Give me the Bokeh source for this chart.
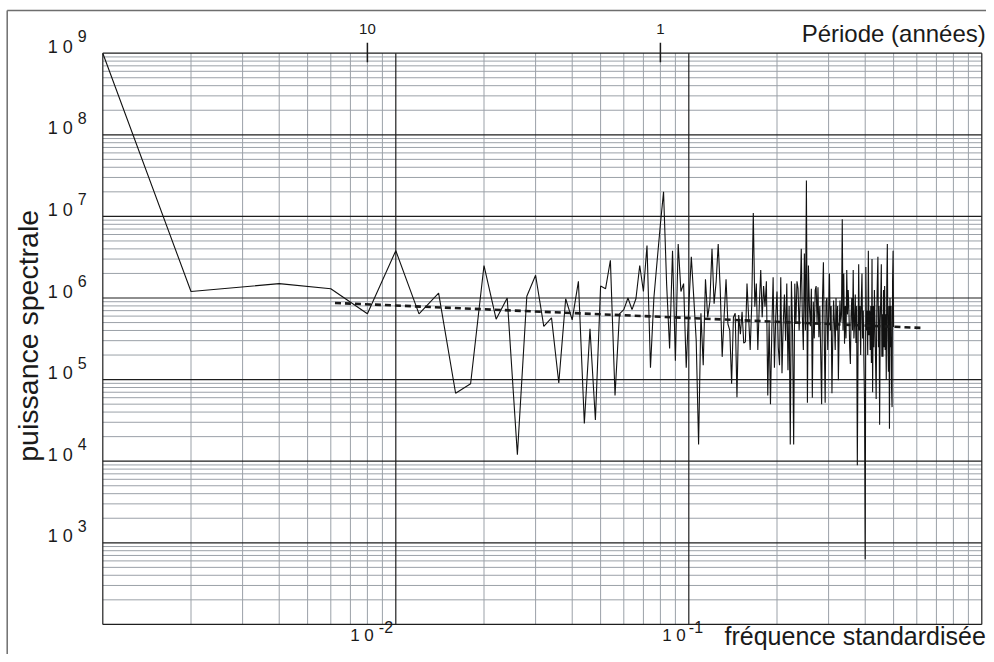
import math
from bokeh.plotting import figure
from bokeh.models import Range1d
from bokeh.core.properties import value
from bokeh.embed import file_html
from bokeh.resources import INLINE

# ---------------- data ----------------
N_SAMPLES = 500                      # FFT length -> harmonic k at frequency k / N
harmonic = list(range(1, 251))
dc_freq = 0.001                       # first point drawn at the left edge
dc_power = 1.0e9

power = [
    1.2e6, 1.5e6, 1.3e6, 6.4e5, 3.8e6, 6.4e5, 1.15e6, 6.8e4, 8.9e4, 2.5e6,
    5.5e5, 1.0e6, 1.2e4, 1.05e6, 1.9e6, 4.5e5, 5.7e5, 9.1e4, 9.8e5, 5.4e5,
    1.6e6, 2.9e4, 4.2e5, 3.2e4, 1.4e6, 1.3e6, 2.9e6, 6.4e4, 6.4e5, 7.2e5,
    1.0e6, 7.2e5, 9.8e5, 2.5e6, 1.2e6, 4.4e6, 1.4e5, 1.0e6, 2.9e6, 8.0e6,
    2.0e7, 1.5e6, 2.4e5, 3.8e6, 1.7e5, 4.6e6, 1.2e6, 1.5e6, 1.4e5, 8.0e5,
    3.2e6, 1.0e6, 3.0e5, 1.6e4, 6.5e5, 1.5e5, 1.7e6, 5.8e5, 9.0e5, 4.0e6,
    8.5e5, 1.6e6, 4.6e6, 1.3e6, 1.9e5, 6.0e5, 1.7e6, 4.8e5, 4.0e5, 8.9e4,
    5.8e5, 6.5e5, 6.1e4, 6.2e5, 3.6e5, 6.8e5, 2.8e5, 2.9e5, 1.5e6, 5.9e5,
    2.3e5, 8.5e5, 1.1e7, 7.8e5, 1.5e6, 2.3e5, 8.0e5, 2.2e6, 5.8e5, 1.4e6,
    7.8e5, 1.6e6, 6.4e4, 5.0e5, 5.0e4, 4.0e5, 1.8e6, 1.4e5, 5.8e5, 1.2e6,
    2.5e5, 1.5e5, 1.8e6, 1.2e5, 4.8e5, 1.1e6, 3.0e5, 1.5e6, 1.3e5, 8.0e5,
    1.6e4, 1.6e6, 4.0e5, 1.6e4, 1.5e6, 4.8e5, 1.6e6, 1.3e6, 4.0e5, 1.0e6,
    4.0e6, 6.3e5, 2.3e5, 3.5e6, 4.0e5, 2.75e7, 5.2e4, 2.5e6, 8.0e5, 4.5e5,
    1.3e6, 6.0e4, 9.0e5, 3.2e5, 1.25e6, 1.4e6, 5.0e5, 1.35e6, 3.3e5, 8.0e5,
    2.0e5, 5.0e4, 1.0e6, 2.75e6, 3.2e5, 5.2e4, 9.0e5, 1.0e6, 2.3e5, 6.3e5,
    2.0e6, 4.0e5, 8.0e5, 6.8e4, 3.2e5, 9.3e5, 5.0e5, 2.3e5, 1.0e6, 4.0e5,
    8.0e5, 9.8e4, 4.0e5, 9.3e5, 5.0e5, 6.3e5, 9.2e6, 4.0e5, 2.0e6, 2.75e5,
    8.0e5, 3.2e5, 2.2e6, 6.3e5, 1.25e6, 7.0e5, 2.5e5, 1.55e5, 6.3e5, 1.0e6,
    4.0e5, 2.2e6, 3.2e5, 5.0e5, 1.1e6, 2.8e5, 8.0e5, 8.9e3, 2.0e5, 2.6e6,
    4.0e5, 8.0e5, 2.0e5, 1.0e6, 2.0e6, 3.2e5, 7.0e5, 1.6e5, 5.0e4, 6.3e2,
    2.4e6, 4.0e5, 7.0e5, 2.0e5, 3.8e6, 3.5e5, 7.0e5, 2.3e5, 8.0e5, 1.6e5,
    3.0e6, 7.0e4, 8.0e5, 2.5e5, 1.25e6, 5.0e5, 1.6e5, 5.8e4, 6.3e5, 1.6e6,
    3.2e6, 2.5e5, 8.0e5, 2.8e4, 5.0e5, 1.0e6, 2.6e6, 1.9e5, 6.3e5, 1.9e5,
    1.25e6, 2.5e5, 1.4e6, 2.3e5, 6.3e5, 1.0e5, 1.6e6, 4.6e6, 3.2e5, 1.25e5,
    8.0e5, 2.5e4, 1.0e6, 2.5e5, 8.0e5, 8.0e4, 4.6e4, 1.6e6, 3.8e6, 4.4e5,
]

trend_freq = [0.0062, 0.62]           # fitted power law (dashed)
trend_power = [8.7e5, 4.3e5]

period_ticks = [0.008, 0.08]          # period scale on top (years)
period_labels = ["10", "1"]

x_bounds = [1e-3, 1.0]                # plotted decades
y_bounds = [1e2, 1e9]
y_decades = [3, 4, 5, 6, 7, 8, 9]
x_decades = [-2, -1]

x_title = "fréquence standardisée"
y_title = "puissance spectrale"
top_title = "Période (années)"

# ---------------- layout (pixels) ----------------
W, H = 986, 654
PLOT_L, PLOT_T = 102.3, 52.7          # pixel position of (1e-3, 1e9)
DEC_X, DEC_Y = 293.0, 81.6            # pixels per decade

def px_x(px):
    return 10 ** (math.log10(x_bounds[0]) + (px - PLOT_L) / DEC_X)

def px_y(py):
    return 10 ** (math.log10(y_bounds[1]) - (py - PLOT_T) / DEC_Y)

FONT = value("Liberation Sans")
INK = "#1a1a1a"

freq = [dc_freq] + [k / N_SAMPLES for k in harmonic]
spec = [dc_power] + power

p = figure(width=W, height=H, x_axis_type="log", y_axis_type="log",
           x_range=Range1d(px_x(0), px_x(W)), y_range=Range1d(px_y(H), px_y(0)),
           output_backend="svg", toolbar_location=None,
           min_border_left=0, min_border_right=0, min_border_top=0, min_border_bottom=0)
p.xaxis.visible = False
p.yaxis.visible = False
p.xgrid.visible = False
p.ygrid.visible = False
p.outline_line_color = None
p.background_fill_color = "white"
p.border_fill_color = "white"

# outer frame of the figure (top and left edges)
p.segment(x0=[px_x(6.7), px_x(6.7)], y0=[px_y(10), px_y(10)],
          x1=[px_x(W + 5), px_x(6.7)], y1=[px_y(10), px_y(H + 5)],
          line_color="#6e6e6e", line_width=1.5)

# log-paper grid: 2..9 lines grey, decade lines dark
xmaj = [10.0 ** e for e in range(-3, 1)]
xmin = [m * 10.0 ** e for e in range(-3, 0) for m in range(2, 10)]
ymaj = [10.0 ** e for e in range(2, 10)]
ymin = [m * 10.0 ** e for e in range(2, 9) for m in range(2, 10)]

def vlines(xs, color, width):
    p.segment(x0=xs, y0=[y_bounds[0]] * len(xs), x1=xs, y1=[y_bounds[1]] * len(xs),
              line_color=color, line_width=width)

def hlines(ys, color, width):
    p.segment(x0=[x_bounds[0]] * len(ys), y0=ys, x1=[x_bounds[1]] * len(ys), y1=ys,
              line_color=color, line_width=width)

vlines(xmin, "#9ba1a8", 1.0)
hlines(ymin, "#9ba1a8", 1.0)
vlines(xmaj, "#1e1e1e", 1.2)
hlines(ymaj, "#1e1e1e", 1.2)

# period ticks crossing the top edge
p.segment(x0=period_ticks, y0=[px_y(PLOT_T - 10.5)] * 2,
          x1=period_ticks, y1=[px_y(PLOT_T + 9)] * 2,
          line_color=INK, line_width=1.5)

# data
p.line(freq, spec, line_color="#111111", line_width=1.1)
p.line(trend_freq, trend_power, line_color="#1a1a1a", line_width=2.6, line_dash="6 4")

# ---------------- texts (positions are text centres) ----------------
def txt(x, y, t, size, align="left", dx=0, dy=0, angle=0.0):
    p.text(x=x, y=y, text=t, x_offset=dx, y_offset=dy, angle=angle,
           text_font=FONT, text_font_size=value(size), text_color=INK,
           text_align=align, text_baseline="middle")

# y decade labels  "1 0" + exponent
ny = len(y_decades)
y_pos = [10.0 ** n for n in y_decades]
txt([x_bounds[0]] * ny, y_pos, ["1 0"] * ny, "18px", dx=-55, dy=-6.5)
txt([x_bounds[0]] * ny, y_pos, [str(n) for n in y_decades], "16px", dx=-25, dy=-17)

# x decade labels
x_pos = [10.0 ** n for n in x_decades]
base_dx = [-22, -3]
exp_dx = [-17, 0]
for xp, n, bdx, edx in zip(x_pos, x_decades, base_dx, exp_dx):
    txt([xp], [y_bounds[0]], ["1 0"], "17px", align="right", dx=bdx, dy=11)
    txt([xp], [y_bounds[0]], [str(n)], "16px", dx=edx, dy=3)

# period labels on top
txt(period_ticks, [y_bounds[1]] * 2, period_labels, "15px", align="center", dy=-24.5)

# titles
txt([x_bounds[1]], [y_bounds[0]], [x_title], "25px", align="right", dx=4, dy=12)
txt([x_bounds[1]], [y_bounds[1]], [top_title], "24px", align="right", dx=4, dy=-19.5)
txt([x_bounds[0]], [math.sqrt(y_bounds[0] * y_bounds[1])], [y_title], "28.5px",
    align="center", dx=-75, dy=-3, angle=math.pi / 2)

open("out.html", "w").write(file_html(p, INLINE))
